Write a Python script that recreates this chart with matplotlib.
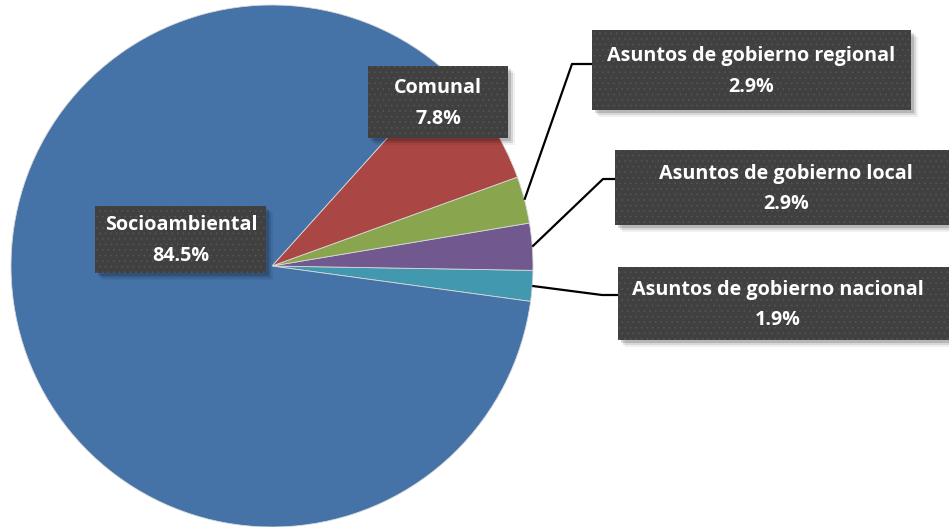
import matplotlib
matplotlib.use("Agg")
import matplotlib.pyplot as plt
from matplotlib.patches import Rectangle
import numpy as np

# ---- data ----
categories = ["Asuntos de gobierno nacional", "Asuntos de gobierno local",
              "Asuntos de gobierno regional", "Comunal", "Socioambiental"]
percent = [1.9, 2.9, 2.9, 7.8, 84.5]
value_labels = ["1.9%", "2.9%", "2.9%", "7.8%", "84.5%"]
colors = ["#4198AF", "#71588F", "#89A54E", "#AA4643", "#4572A7"]

# ---- layout (image pixel coordinates, y downward) ----
W, H = 949, 527
# box: left, top, right, bottom ; text center x
boxes = [
    (618, 267, 962, 340, 778),   # nacional
    (615, 150, 962, 225, 786),   # local
    (592, 30, 911, 110, 751),    # regional
    (368, 66, 508, 138, 438),    # comunal
    (95, 206, 266, 273, 181),    # socio
]
# leader elbow points (x, y) and box attach x
leaders = {0: (602, 295, 618), 1: (603, 179, 615), 2: (572, 64, 592)}

plt.rcParams["font.family"] = ["Open Sans", "DejaVu Sans"]
plt.rcParams["hatch.linewidth"] = 0.5
fig = plt.figure(figsize=(W / 100, H / 100), dpi=100)
ax = fig.add_axes([0, 0, 1, 1])

cx, cy, R = 272, 266, 261
Y = lambda y: H - y

wedges, _ = ax.pie(percent, colors=colors, startangle=-7.8, counterclock=True,
                   radius=R, center=(cx, Y(cy)),
                   wedgeprops=dict(linewidth=0.6, edgecolor="#d8d8d8"))
ax.set_xlim(0, W)
ax.set_ylim(0, H)
ax.set_aspect("equal")
ax.axis("off")

# leader lines
for i, (ex, ey, bx) in leaders.items():
    w = wedges[i]
    mid = np.deg2rad((w.theta1 + w.theta2) / 2)
    sx, sy = cx + R * np.cos(mid), Y(cy) + R * np.sin(mid)
    ax.plot([sx, ex, bx], [sy, Y(ey), Y(ey)], color="black", lw=1.6,
            solid_capstyle="butt", zorder=3)

# label boxes
for i, (l, t, r, b, tx) in enumerate(boxes):
    w_, h_ = r - l, b - t
    # soft shadow
    for k, a in [(7, 0.06), (5, 0.1), (3, 0.15)]:
        ax.add_patch(Rectangle((l + k, Y(b) - k), w_, h_, facecolor="#000000",
                               edgecolor="none", alpha=a, zorder=4))
    ax.add_patch(Rectangle((l, Y(b)), w_, h_, facecolor="#404040",
                           edgecolor="#555555", hatch="...", lw=0, zorder=5))
    ymid = (t + b) / 2
    ax.text(tx, Y(ymid - 14), categories[i], color="white", fontsize=14.2,
            fontweight="bold", ha="center", va="center", zorder=6)
    ax.text(tx, Y(ymid + 16.5), value_labels[i], color="white", fontsize=14.2,
            fontweight="bold", ha="center", va="center", zorder=6)

fig.savefig("out.png", dpi=100, facecolor="white")
